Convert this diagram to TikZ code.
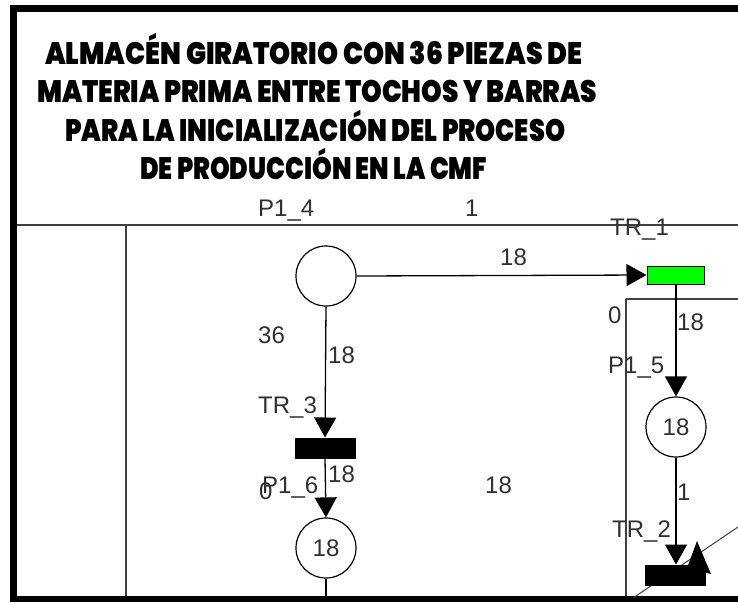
\documentclass[tikz,border=0pt]{standalone}
\usepackage{fontspec}
\usepackage{graphicx}
\usetikzlibrary{arrows.meta}
\setmainfont{Liberation Sans}
\IfFontExistsTF{Poppins Black}{\newfontfamily\ttlfont{Poppins Black}}{\newfontfamily\ttlfont{Liberation Sans Bold}}
\definecolor{lbl}{HTML}{303030}
\definecolor{frm}{HTML}{404040}
\tikzset{
  place/.style={circle, draw, line width=1.2pt, minimum size=60pt, inner sep=0pt, font=\fontsize{24}{24}\selectfont, text=lbl},
  transbox/.style={rectangle, draw, line width=1pt, inner sep=0pt},
  arcline/.style={draw, line width=1.3pt, -{Triangle[length=20pt,width=22pt]}},
  plainarc/.style={draw, line width=1.3pt},
  frameline/.style={draw=frm, line width=1.8pt},
  lab/.style={anchor=base west, inner sep=0pt, text=lbl, font=\fontsize{24}{24}\selectfont},
  ttl/.style={anchor=base west, inner sep=0pt, font=\ttlfont\fontsize{31}{31}\selectfont}
}
\begin{document}
\begin{tikzpicture}[x=1pt,y=-1pt]
\useasboundingbox (0,0) rectangle (738,602);
% outer frame
\fill (10,5) rectangle (738,12);
\fill (10,5) rectangle (17,602);
\fill (10,596) rectangle (738,602);
% inner lines
\draw[frameline] (17,225) -- (738,225);
\draw[frameline] (126,225) -- (126,596);
\draw[frameline] (626,299) -- (738,299);
\draw[frameline] (626,299) -- (626,596);
% title
\node[ttl] (t1) at (45,64) {\resizebox{537pt}{\height}{ALMACÉN GIRATORIO CON 36 PIEZAS DE}};
\node[ttl] (t2) at (37,102) {\resizebox{560pt}{\height}{MATERIA PRIMA ENTRE TOCHOS Y BARRAS}};
\node[ttl] (t3) at (65,141) {\resizebox{500pt}{\height}{PARA LA INICIALIZACIÓN DEL PROCESO}};
\node[ttl] (t4) at (140,179) {\resizebox{347pt}{\height}{DE PRODUCCIÓN EN LA CMF}};
% places
\node[place] (p14) at (326,276) {};
\node[place] (p15) at (676,427) {18};
\node[place] (p16) at (326,548) {18};
% transitions
\node[transbox, fill=green, minimum width=57pt, minimum height=18pt] (tr1) at (675.5,275) {};
\node[transbox, fill=black, minimum width=60pt, minimum height=20pt] (tr3) at (325,448) {};
\draw[line width=1pt, draw=frm] (633,598) -- (738,527);
\node[transbox, fill=black, minimum width=60pt, minimum height=20pt] (tr2) at (675,575) {};
\fill (697,541) -- (687,568) -- (711,574) -- cycle;
\coordinate (bot) at (326,596);
% arcs
\draw[arcline] (p14.east) -- (tr1.west);
\draw[arcline] (p14.south) -- (tr3.north);
\draw[arcline] (tr3.south) -- (p16.north);
\draw[plainarc] (p16.south) -- (bot);
\draw[arcline] (tr1.south -| p15.north) -- (p15.north);
\draw[arcline] (p15.south) -- (tr2.north -| p15.south);
% labels
\node[lab] (lp14) at (258,216) {P1\_4};
\node[lab] (lone) at (465,216) {1};
\node[lab] (l18a) at (500,265) {18};
\node[lab] (ltr1) at (610,235) {TR\_1};
\node[lab] (lz1) at (608,323) {0};
\node[lab] (l18b) at (677,330) {18};
\node[lab] (lp15) at (608,373) {P1\_5};
\node[lab] (lone2) at (677,500) {1};
\node[lab] (ltr2) at (612,537) {TR\_2};
\node[lab] (l36) at (258,343) {36};
\node[lab] (l18c) at (328,363) {18};
\node[lab] (ltr3) at (258,413) {TR\_3};
\node[lab] (l18d) at (328,482) {18};
\node[lab] (lz2) at (259,499) {0};
\node[lab] (lp16) at (262,493) {P1\_6};
\node[lab] (l18e) at (485,493) {18};
\end{tikzpicture}
\end{document}
